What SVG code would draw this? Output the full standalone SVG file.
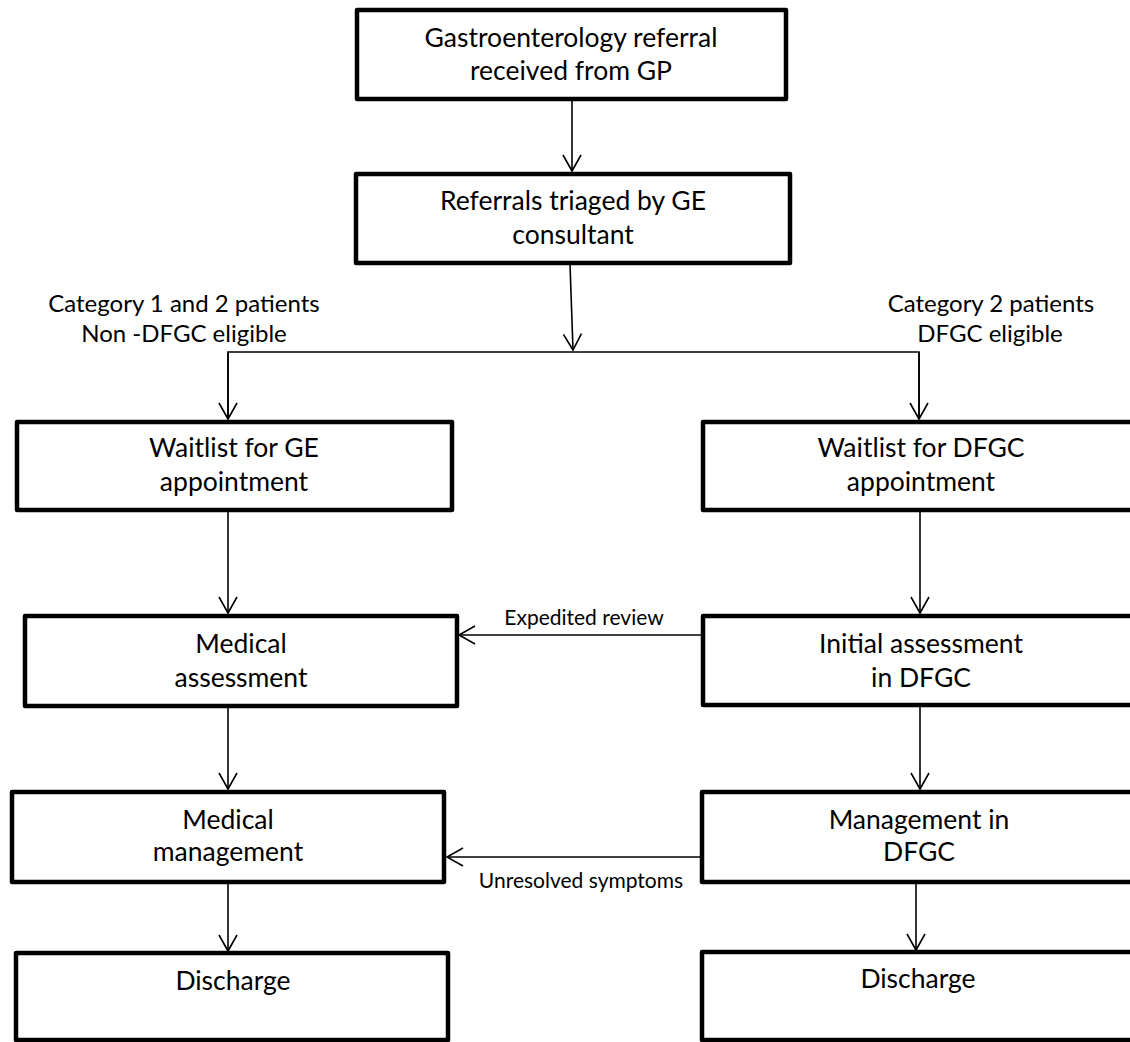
<svg xmlns="http://www.w3.org/2000/svg" width="1130" height="1042" viewBox="0 0 1130 1042">
<defs>
<style>
.box{fill:#fff;stroke:#000;stroke-width:4.5;stroke-linejoin:round}
.t{font-family:Lato,"Liberation Sans",sans-serif;font-size:26.5px;fill:#000;text-anchor:middle}
.l{font-family:Lato,"Liberation Sans",sans-serif;font-size:24px;fill:#000;text-anchor:middle}
.s{font-family:Lato,"Liberation Sans",sans-serif;font-size:21px;fill:#000;text-anchor:middle}
.c{fill:none;stroke:#000;stroke-width:1.6}
</style>
<marker id="ah" markerUnits="userSpaceOnUse" markerWidth="24" markerHeight="24" viewBox="-18 -12 20 24" refX="0" refY="0" orient="auto">
<path d="M-16,-9 L0,0 L-16,9" fill="none" stroke="#000" stroke-width="1.6"/>
</marker>
</defs>
<rect width="1130" height="1042" fill="#fff"/>
<g id="connectors">
<line class="c" x1="572" y1="101" x2="572" y2="171" marker-end="url(#ah)"/>
<line class="c" x1="570" y1="264" x2="573" y2="350" marker-end="url(#ah)"/>
<polyline class="c" points="228,418 228,352 919,352 919,418"/>
<line class="c" x1="228" y1="352" x2="228" y2="419" marker-end="url(#ah)"/>
<line class="c" x1="919" y1="352" x2="919" y2="419" marker-end="url(#ah)"/>
<line class="c" x1="228" y1="510" x2="228" y2="613" marker-end="url(#ah)"/>
<line class="c" x1="920" y1="510" x2="920" y2="613" marker-end="url(#ah)"/>
<line class="c" x1="703" y1="635" x2="459" y2="635" marker-end="url(#ah)"/>
<line class="c" x1="228" y1="706" x2="228" y2="789" marker-end="url(#ah)"/>
<line class="c" x1="920" y1="705" x2="920" y2="789" marker-end="url(#ah)"/>
<line class="c" x1="702" y1="857" x2="447" y2="857" marker-end="url(#ah)"/>
<line class="c" x1="228" y1="882" x2="228" y2="951" marker-end="url(#ah)"/>
<line class="c" x1="916" y1="882" x2="916" y2="950" marker-end="url(#ah)"/>
<text class="l" x="184" y="312">Category 1 and 2 patients</text>
<text class="l" x="184" y="342">Non -DFGC eligible</text>
<text class="l" x="991" y="312">Category 2 patients</text>
<text class="l" x="990" y="342">DFGC eligible</text>
<text class="s" x="584" y="625">Expedited review</text>
<text class="s" x="581" y="888">Unresolved symptoms</text>
</g>
<g id="n1"><rect class="box" x="357" y="10" width="429" height="89"/>
<text class="t" x="571" y="47">Gastroenterology referral</text><text class="t" x="571" y="80">received from GP</text></g>
<g id="n2"><rect class="box" x="356" y="174" width="434" height="89"/>
<text class="t" x="573" y="210">Referrals triaged by GE</text><text class="t" x="573" y="244">consultant</text></g>
<g id="n3"><rect class="box" x="17" y="422" width="435" height="88"/>
<text class="t" x="234" y="457">Waitlist for GE</text><text class="t" x="234" y="491">appointment</text></g>
<g id="n4"><rect class="box" x="703" y="422" width="434" height="88"/>
<text class="t" x="921" y="457">Waitlist for DFGC</text><text class="t" x="921" y="491">appointment</text></g>
<g id="n5"><rect class="box" x="25" y="616" width="432" height="90"/>
<text class="t" x="241" y="653">Medical</text><text class="t" x="241" y="687">assessment</text></g>
<g id="n6"><rect class="box" x="703" y="616" width="434" height="89"/>
<text class="t" x="921" y="653">Initial assessment</text><text class="t" x="921" y="687">in DFGC</text></g>
<g id="n7"><rect class="box" x="12" y="792" width="432" height="90"/>
<text class="t" x="228" y="829">Medical</text><text class="t" x="228" y="861">management</text></g>
<g id="n8"><rect class="box" x="702" y="792" width="435" height="90"/>
<text class="t" x="919" y="829">Management in</text><text class="t" x="919" y="861">DFGC</text></g>
<g id="n9"><rect class="box" x="16" y="953" width="432" height="87"/>
<text class="t" x="233" y="990">Discharge</text></g>
<g id="n10"><rect class="box" x="702" y="952" width="435" height="88"/>
<text class="t" x="918" y="988">Discharge</text></g>
</svg>
